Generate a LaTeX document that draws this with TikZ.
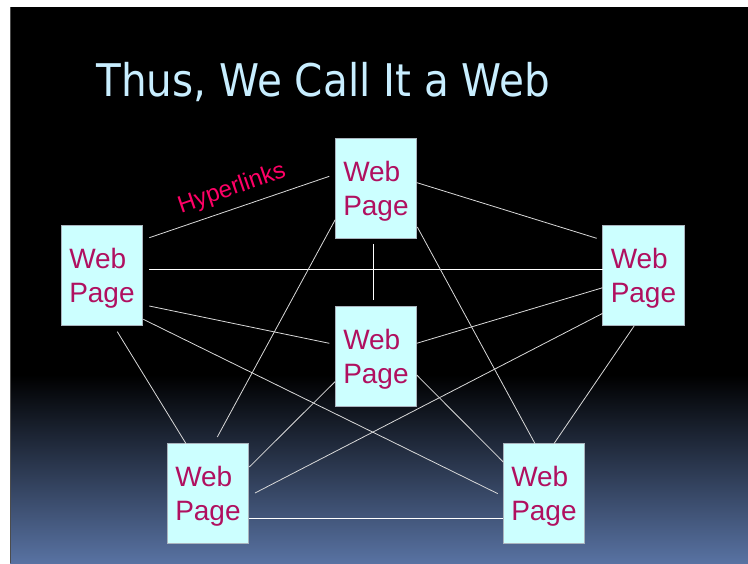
\documentclass[tikz,border=0pt]{standalone}
\usepackage{fontspec}
\setmainfont{Liberation Sans}
\newfontfamily\titlefont{DejaVu Sans}
\usetikzlibrary{calc}
\definecolor{pagefill}{RGB}{204,255,255}
\definecolor{pageedge}{RGB}{170,180,190}
\definecolor{pagetext}{RGB}{176,16,96}
\definecolor{hypertext}{RGB}{255,0,102}
\definecolor{titletext}{RGB}{200,238,255}
\definecolor{slidebot}{RGB}{88,114,162}
\tikzset{
  page/.style={draw=pageedge,line width=0.6pt,fill=pagefill,text=pagetext,
    minimum width=81.5pt,minimum height=100pt,text width=65.5pt,inner xsep=8pt,
    text depth=34pt,align=left,font=\fontsize{28}{34}\selectfont},
  link/.style={draw=white!85!black,line width=0.8pt},
  mainlink/.style={draw=white,line width=1pt}
}
\begin{document}
\begin{tikzpicture}[x=1pt,y=-1pt]
\fill[white] (0,0) rectangle (748,563);
\fill[black] (10,7) rectangle (748,563);
\shade[top color=black,bottom color=slidebot] (10,375) rectangle (748,563);
\draw[black!70,line width=0.8pt] (10.4,7) -- (10.4,563);
\node[anchor=base west,text=titletext] (title) at (93,96) {\scalebox{0.9}[1]{\titlefont\fontsize{45}{54}\selectfont Thus, We Call It a Web}};
\node[page] (L) at (102,275) {Web\\Page};
\node[page] (T) at (376,188.3) {Web\\Page};
\node[page] (R) at (643.5,275) {Web\\Page};
\node[page] (C) at (376,356) {Web\\Page};
\node[page] (BL) at (208,493.3) {Web\\Page};
\node[page] (BR) at (544,493.3) {Web\\Page};
\draw[link] ($(L)+(47.3,-37.3)$) -- ($(T)+(-46.7,-12)$);
\draw[mainlink] ($(L)+(47.3,-6)$) -- ($(R)+(-40.8,-6)$);
\draw[link] ($(L)+(47.3,31)$) -- ($(C)+(-46.7,-12.7)$);
\draw[link] ($(L)+(15.3,56.7)$) -- ($(BL)+(-22,-49.7)$);
\draw[link] ($(L)+(41.3,44.3)$) -- ($(BR)+(-46.3,0.3)$);
\draw[mainlink] ($(T)+(-2.7,56)$) -- ($(C)+(-2.7,-56)$);
\draw[link] ($(T)+(40.7,-5.7)$) -- ($(R)+(-46.8,-36.7)$);
\draw[link] ($(T)+(-40.7,31.3)$) -- ($(BL)+(9.3,-56.3)$);
\draw[link] ($(T)+(41.3,38.7)$) -- ($(BR)+(-9,-49.7)$);
\draw[link] ($(C)+(40.7,-12.7)$) -- ($(R)+(-40.8,12.7)$);
\draw[link] ($(C)+(-41,25.7)$) -- ($(BL)+(41.3,-26.3)$);
\draw[link] ($(C)+(40.7,19)$) -- ($(BR)+(-40.7,-31.3)$);
\draw[link] ($(R)+(-40.8,38.3)$) -- ($(BL)+(47,-0.3)$);
\draw[link] ($(R)+(-9.2,50.7)$) -- ($(BR)+(10,-49.7)$);
\draw[mainlink] ($(BL)+(41,25.3)$) -- ($(BR)+(-40.7,25.3)$);
\node[text=hypertext,rotate=19,font=\fontsize{24}{28}\selectfont] (hyper) at (232,189) {Hyperlinks};
\useasboundingbox (0,0) rectangle (748,563);
\end{tikzpicture}
\end{document}
